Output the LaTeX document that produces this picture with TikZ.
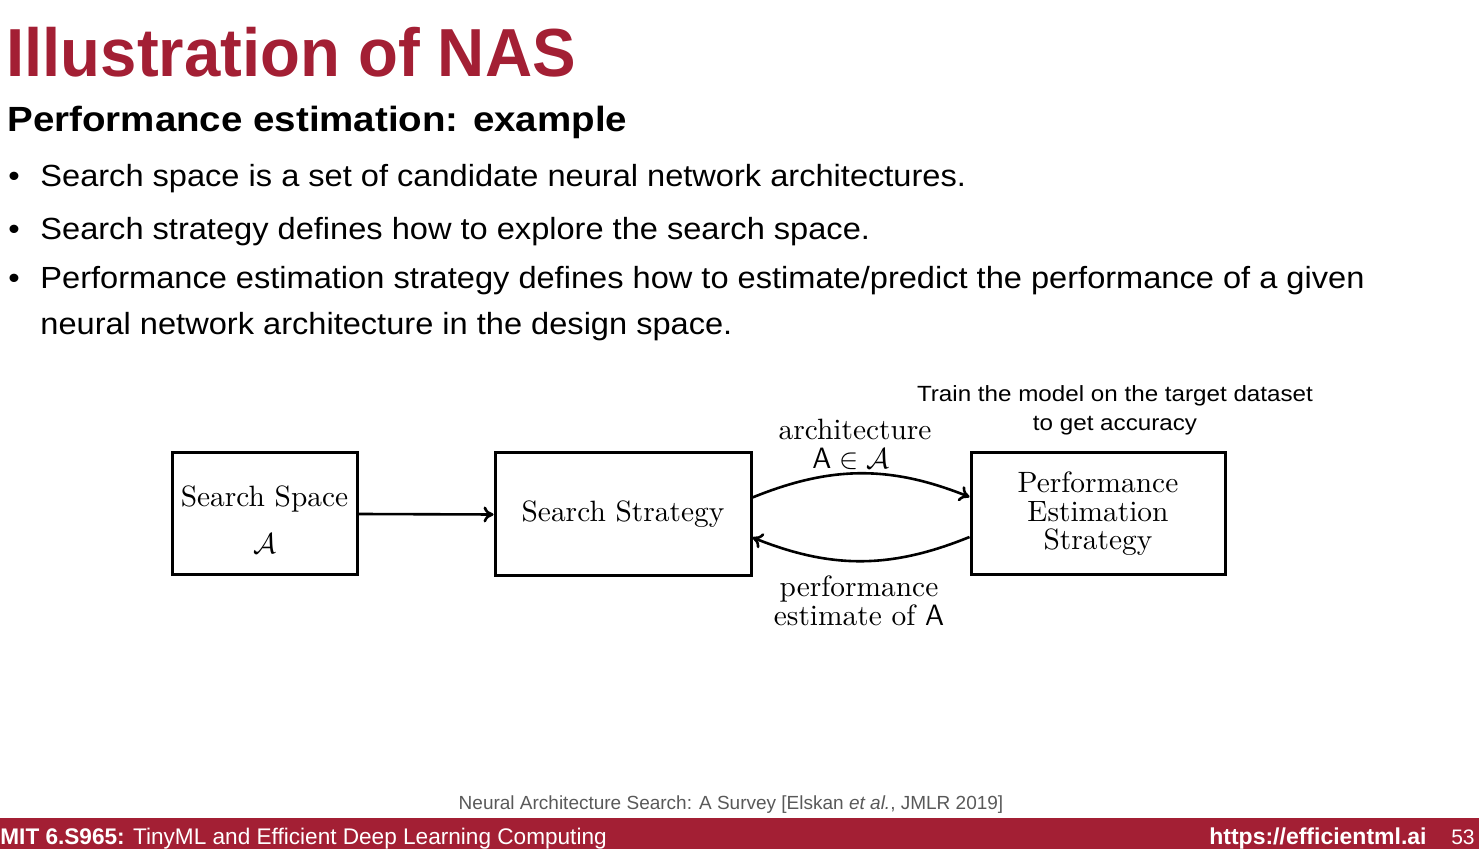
\documentclass[tikz,border=0pt]{standalone}
\usepackage{fontspec}
\usetikzlibrary{positioning,arrows.meta}
\newfontfamily\helv{Liberation Sans}
\newfontfamily\titlefont[FakeStretch=0.96]{Liberation Sans}
\newfontfamily\widefont[FakeStretch=1.065]{Liberation Sans}
\newfontfamily\subfont[FakeStretch=1.1]{Liberation Sans}
\newfontfamily\cmten{lmroman10-regular}[Extension=.otf]
\definecolor{mitred}{HTML}{A31F34}
\tikzset{
  block/.style={draw, line width=1.5pt, inner sep=0pt, align=center, font=\cmten\fontsize{14.7}{14.2}\selectfont},
  lbl/.style={inner sep=0pt, align=center, font=\cmten\fontsize{14.7}{14.5}\selectfont},
  bullet/.style={anchor=base west, inner sep=0pt, font=\widefont\fontsize{15.3}{18}\selectfont},
  link/.style={-{To[length=5pt,width=8pt]}, line width=1.3pt}
}
\begin{document}
\begin{tikzpicture}[x=0.5pt, y=-0.5pt]
\useasboundingbox (0,0) rectangle (1479,849);
% title
\node[anchor=base west, inner sep=0pt, text=mitred, font=\titlefont\bfseries\fontsize{34}{34}\selectfont] (title) at (6,77) {Illustration of NAS};
\node[anchor=base west, inner sep=0pt, font=\subfont\bfseries\fontsize{17.5}{18}\selectfont] (subtitle) at (7,132) {Performance estimation: example};
% bullets
\node[bullet] (dot1) at (8,187) {\textbullet};
\node[bullet] (b1) at (40,187) {Search space is a set of candidate neural network architectures.};
\node[bullet] (dot2) at (8,240) {\textbullet};
\node[bullet] (b2) at (40,240) {Search strategy defines how to explore the search space.};
\node[bullet] (dot3) at (8,289) {\textbullet};
\node[bullet] (b3) at (40,289) {Performance estimation strategy defines how to estimate/predict the performance of a given};
\node[bullet] (b4) at (40,335) {neural network architecture in the design space.};
% diagram
\node[block, minimum width=92.5pt, minimum height=61pt] (space) at (264.5,514) {};
\node[lbl] (spacetxt) at (264.5,520) {Search Space\\[9pt] $\mathcal{A}$};
\node[block, minimum width=128pt, minimum height=61.5pt] (strategy) at (623,514.5) {Search Strategy};
\node[block, minimum width=127pt, minimum height=61pt] (estim) at (1098,514) {Performance\\ Estimation\\ Strategy};
\draw[link] (space.east) -- (strategy.west);
\draw[link] ([yshift=8.5pt]strategy.east) to[bend left=22] ([yshift=8.5pt]estim.west);
\draw[link] ([yshift=-11.5pt]estim.west) to[bend left=22] ([yshift=-11.5pt]strategy.east);
\node[lbl] (arch) at (855,429) {architecture};
\node[lbl] (archA) at (851,459) {$\mathsf{A}\in\mathcal{A}$};
\node[lbl] (perf) at (859,601) {performance\\ estimate of $\mathsf{A}$};
\node[inner sep=0pt, align=center, font=\subfont\fontsize{11}{14.5}\selectfont] (train) at (1115,410) {Train the model on the target dataset\\ to get accuracy};
% footer
\node[inner sep=0pt, text=black!65, font=\helv\fontsize{9.5}{10}\selectfont] (cite) at (731,805) {Neural Architecture Search: A Survey [Elskan \textit{et al.}, JMLR 2019]};
\fill[mitred] (0,818) rectangle (1479,849);
\node[anchor=base west, inner sep=0pt, text=white, font=\helv\fontsize{11.3}{12}\selectfont] (course) at (0,844) {\textbf{MIT 6.S965:} TinyML and Efficient Deep Learning Computing};
\node[anchor=base east, inner sep=0pt, text=white, font=\helv\bfseries\fontsize{11.5}{12}\selectfont] (url) at (1427,844) {https://efficientml.ai};
\node[anchor=base east, inner sep=0pt, text=white, font=\helv\fontsize{10.5}{12}\selectfont] (page) at (1475,844) {53};
\end{tikzpicture}
\end{document}
